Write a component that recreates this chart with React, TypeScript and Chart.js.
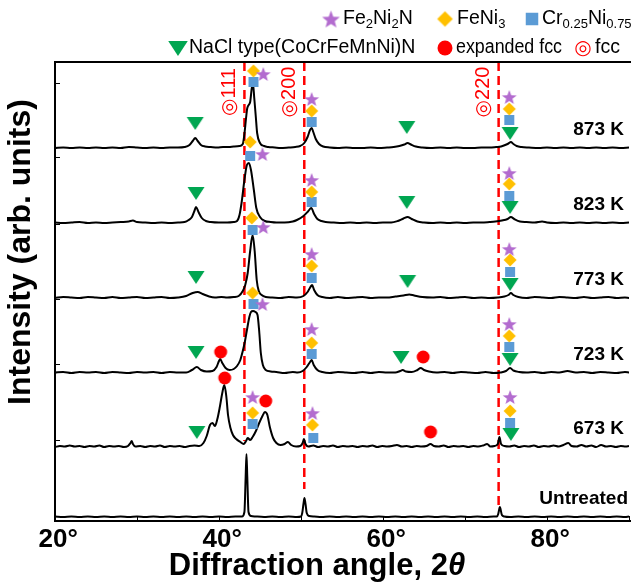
import React, { useEffect, useRef } from 'react';
import { Chart, registerables } from 'chart.js';

Chart.register(...registerables);

type P = [number, number];

// ---------- axis / ticks ----------
const xTickValues = [20, 30, 40, 50, 60, 70, 80, 90];
const xLabelValues = [20, 40, 60, 80];
const yTickValues = [81, 157, 222, 297, 364, 438];

// ---------- patterns (2theta, relative intensity) ----------
const patternLabels = ['Untreated', '673 K', '723 K', '773 K', '823 K', '873 K'];
const patternOffsets = [4, 74, 148, 223, 298, 373];

const untreated: P[] = [
  [20, 0.5], [21, 0], [22, 0.5], [23, 0], [24, 0.5], [25, 0], [26, 0.5], [27, 0], [28, 0.5], [29, 0], [30, 0.5],
  [31, 0], [32, 0.5], [33, 0], [34, 0.5], [35, 0], [36, 0.5], [37, 0], [38, 0.5], [39, 0], [40, 0.5], [41, 0],
  [42, 0.5], [42.8, 0.5], [43.1, 5], [43.25, 40], [43.35, 63], [43.45, 40], [43.6, 5], [43.9, 1], [44.5, 0.5],
  [45.5, 0], [46.5, 0.5], [47.5, 0], [48.5, 0.5], [49.5, 0], [50.0, 0.5], [50.15, 4], [50.3, 13], [50.42, 19],
  [50.55, 13], [50.7, 4], [51.0, 1], [51.6, 0.5], [52.5, 0], [53.5, 0.5], [54.5, 0], [55.5, 0.5], [56.5, 0],
  [57.5, 0.5], [58.5, 0], [59.5, 0.5], [60.5, 0], [61.5, 0.5], [62.5, 0], [63.5, 0.5], [64.5, 0], [65.5, 0.5],
  [66.5, 0], [67.5, 0.5], [68.5, 0], [69.5, 0.5], [70.5, 0], [71.5, 0.5], [72.5, 0], [73.5, 0.5], [73.9, 0.5],
  [74.05, 3], [74.18, 8], [74.25, 10], [74.33, 8], [74.5, 2], [74.8, 0.5], [75.5, 0], [76.5, 0.5], [77.5, 0],
  [78.5, 0.5], [79.5, 0], [80.5, 0.5], [81.5, 0], [82.5, 0.5], [83.5, 0], [84.5, 0.5], [85.5, 0], [86.5, 0.5],
  [87.5, 0], [88.5, 0.5], [89.5, 0], [90, 0.5],
];

const k673: P[] = [
  [20, 0], [20.6, 1], [21.2, 0.5], [21.8, 1.5], [22.4, 0.5], [23, 1], [23.6, 0], [24.2, 1], [24.8, 0.5],
  [25.4, 1.5], [26, 0], [26.6, 1], [27.2, 0.5], [27.8, 1], [28.4, 0], [28.9, 1], [29.2, 4], [29.35, 6],
  [29.5, 3], [29.8, 0.5], [30.4, 1], [31, 0], [31.6, 1], [32.2, 0.5], [32.8, 1.5], [33.4, 0], [34, 1],
  [34.6, 0.5], [35.2, 1], [35.8, 0], [36.4, 1], [37, 1.5], [37.6, 1], [38.1, 4], [38.5, 11], [38.9, 22],
  [39.2, 24], [39.5, 21], [39.8, 28], [40.1, 40], [40.4, 54], [40.65, 62], [40.9, 50], [41.1, 32], [41.4, 19],
  [41.7, 12], [42.1, 8], [42.6, 5], [43.0, 3], [43.3, 6], [43.5, 9], [43.8, 7], [44.1, 10], [44.5, 16],
  [44.9, 24], [45.3, 31], [45.6, 35], [45.9, 32], [46.2, 20], [46.6, 9], [47.0, 4], [47.5, 2], [48.0, 3],
  [48.4, 5], [48.8, 2], [49.4, 0.5], [49.9, 1], [50.2, 4], [50.35, 8], [50.55, 3], [50.9, 0.5], [51.5, 1.5],
  [52.1, 0], [52.7, 1], [53.3, 0.5], [53.9, 1.5], [54.5, 0], [55.1, 1], [55.7, 0.5], [56.3, 1], [56.9, 0],
  [57.5, 1], [58.1, 0.5], [58.7, 1.5], [59.3, 0], [59.9, 1], [60.5, 0.5], [61.1, 1], [61.7, 2], [62.3, 0.5],
  [62.9, 1], [63.5, 0], [64.1, 1], [64.7, 0.5], [65.3, 1], [65.8, 3], [66.2, 1], [66.8, 0.5], [67.4, 1.5],
  [68, 0], [68.6, 1], [69.2, 0.5], [69.8, 1], [70.4, 0], [71, 1], [71.6, 0.5], [72.2, 1.5], [72.7, 3],
  [73.1, 0.5], [73.6, 1], [74.0, 3], [74.2, 10], [74.4, 3], [74.8, 1], [75.4, 0.5], [76, 1.5], [76.6, 0],
  [77.2, 1], [77.8, 0.5], [78.4, 1.5], [79, 0], [79.6, 1], [80.2, 0.5], [80.8, 1.5], [81.4, 0.5], [82, 2],
  [82.6, 4], [83, 1], [83.6, 0.5], [84.2, 2], [84.8, 0.5], [85.4, 1.5], [86, 0], [86.6, 2], [87.2, 0.5],
  [87.8, 1], [88.4, 0], [89, 1], [89.6, 0.5], [90, 1],
];

const k723: P[] = [
  [20, 0.5], [21, 1], [22, 0], [23, 1], [24, 0.5], [25, 1], [26, 0], [27, 1], [28, 0.5], [29, 0], [30, 1],
  [31, 0.5], [32, 1], [33, 0], [34, 1], [35, 0.5], [36, 0.5], [36.7, 3], [37.3, 6], [37.8, 3], [38.5, 1.5],
  [39.2, 2], [39.7, 6], [40.0, 12], [40.15, 14], [40.4, 10], [40.8, 5], [41.3, 3], [41.8, 4], [42.2, 7],
  [42.6, 13], [42.9, 22], [43.15, 31], [43.45, 45], [43.7, 56], [43.9, 61], [44.15, 62], [44.45, 61],
  [44.7, 58], [44.9, 42], [45.1, 20], [45.35, 8], [45.7, 3], [46.3, 1.5], [47, 1], [48, 0], [49, 1],
  [49.6, 0.5], [50.2, 2], [50.7, 6], [51.1, 11], [51.3, 13], [51.55, 8], [52, 3], [52.6, 1], [53.5, 0],
  [54.5, 1], [55.5, 0.5], [56.5, 0], [57.5, 1], [58.5, 0], [59.5, 1], [60.5, 0.5], [61.5, 0.5], [62.1, 2],
  [62.4, 3], [62.8, 1.5], [63.5, 1], [64.2, 3], [64.6, 5], [65.0, 3], [65.6, 1.5], [66.5, 0.5], [67.5, 1],
  [68.5, 0], [69.5, 1], [70.5, 0.5], [71.5, 0], [72.5, 1], [73.5, 0], [74.3, 0.5], [75, 2], [75.5, 5],
  [75.9, 2.5], [76.6, 1], [77.5, 0.5], [78.5, 1], [79.5, 0], [80.5, 1], [81.5, 0.5], [82.5, 2], [83.5, 0.5],
  [84.5, 1], [85.5, 0], [86.5, 1], [87.5, 0.5], [88.5, 0], [89.5, 1], [90, 0.5],
];

const k773: P[] = [
  [20, 0], [21, 1], [22, 0.5], [23, 0], [24, 1], [25, 0.5], [26, 0], [27, 1], [28, 0], [29, 0.5], [30, 1],
  [31, 0], [32, 0.5], [33, 1], [34, 0], [35, 0.5], [36, 2], [36.8, 5], [37.4, 6], [38, 4], [38.8, 1.5],
  [39.5, 0.5], [40.3, 1], [41, 0.5], [41.8, 1], [42.4, 2], [42.9, 7], [43.2, 13], [43.5, 25], [43.8, 47],
  [44.1, 63], [44.35, 47], [44.6, 18], [44.85, 7], [45.2, 3], [45.7, 1], [46.5, 0.5], [47.5, 0], [48.5, 1],
  [49.5, 0.5], [50.3, 2], [50.8, 6], [51.15, 11], [51.35, 13], [51.6, 8], [52, 3], [52.6, 1], [53.5, 0],
  [54.5, 1], [55.5, 0], [56.5, 0.5], [57.5, 1], [58.5, 0], [59.5, 0.5], [60.5, 0.5], [61.5, 1.5], [62.5, 2.5],
  [63.2, 3.5], [63.8, 2.5], [64.8, 1], [66, 0.5], [67, 1], [68, 0], [69, 0.5], [70, 1], [71, 0], [72, 0.5],
  [73, 0], [74, 0.5], [74.8, 1.5], [75.3, 3], [75.6, 5], [75.9, 3], [76.5, 1], [77.5, 0], [78.5, 1],
  [79.5, 0.5], [80.5, 0], [81.5, 1], [82.5, 0.5], [83.5, 0], [84.5, 1], [85.5, 0], [86.5, 0.5], [87.5, 1],
  [88.5, 0], [89.5, 0.5], [90, 0],
];

const k823: P[] = [
  [20, 0.5], [21, 0], [22, 0.5], [23, 1], [24, 0], [25, 0.5], [26, 0], [27, 0.5], [28, 1], [29, 1.5],
  [29.5, 2.5], [30, 1], [31, 0.5], [32, 0], [33, 0.5], [34, 0], [35, 0.5], [35.8, 1], [36.3, 3], [36.7, 6],
  [37.0, 12], [37.2, 16], [37.5, 11], [37.9, 5], [38.4, 2], [39, 1], [40, 0.5], [41, 0.5], [41.8, 1],
  [42.2, 2], [42.5, 8], [42.75, 20], [43.1, 43], [43.4, 58], [43.65, 60], [43.9, 53], [44.25, 33],
  [44.55, 15], [45.0, 6], [45.6, 2], [46.3, 1], [47, 0.5], [48, 0.5], [49, 1.5], [49.5, 3], [50.3, 7],
  [50.9, 12], [51.25, 15], [51.6, 9], [52, 4], [52.5, 2], [53, 1], [54, 0.5], [55, 0], [56, 0.5], [57, 0],
  [58, 0.5], [59, 0], [60, 0.5], [61, 0.5], [61.8, 2], [62.5, 4.5], [63, 6], [63.5, 4], [64.2, 1.5],
  [65, 0.5], [66, 0], [67, 0.5], [68, 0], [69, 0.5], [70, 0], [71, 0.5], [72, 0.5], [73, 1], [73.7, 1.5],
  [74.5, 2.5], [75.2, 4], [75.6, 6], [76, 4], [76.7, 1.5], [77.5, 1], [78.5, 0.5], [79.4, 1.5], [80, 0.5],
  [81, 0], [82, 0.5], [83, 0], [84, 0.5], [85, 0], [86, 0.5], [87, 0], [88, 0.5], [89, 0], [90, 0.5],
];

const k873: P[] = [
  [20, 0], [21, 0.5], [22, 0], [23, 0.5], [24, 0], [25, 0.5], [26, 0], [27, 0.5], [28, 0], [29, 1],
  [30, 0.5], [31, 0], [32, 0.5], [33, 0], [34, 0.5], [35, 0.5], [35.8, 1], [36.4, 3], [36.8, 7], [37.1, 10],
  [37.4, 7], [37.8, 3], [38.3, 1.5], [39, 1], [39.8, 0.5], [40.5, 1], [41.2, 1], [41.8, 1.5], [42.5, 2],
  [42.9, 4], [43.1, 14], [43.3, 30], [43.45, 40], [43.8, 46], [44.0, 60], [44.15, 64], [44.3, 50],
  [44.5, 30], [44.65, 15], [45.0, 5], [45.5, 2], [46, 1], [46.8, 0.5], [47.5, 0], [48.5, 0.5], [49.3, 1],
  [49.9, 2], [50.4, 5], [50.8, 11], [51.1, 18], [51.3, 20], [51.5, 16], [51.8, 9], [52.2, 4], [52.7, 1.5],
  [53.5, 0.5], [54.5, 0], [55.5, 0.5], [56.5, 0], [57.5, 0], [58.5, 0.5], [59.5, 0], [60.5, 0.5], [61.3, 1],
  [62, 2], [62.6, 3.5], [63, 5], [63.4, 3.5], [64, 1.5], [64.8, 0.5], [65.8, 0], [67, 0.5], [68, 0],
  [69, 0.5], [70, 0], [71, 0], [72, 0.5], [73, 0.5], [73.8, 1], [74.4, 1.5], [74.9, 3], [75.3, 4.5],
  [75.6, 6], [75.9, 4], [76.3, 2], [76.9, 1], [77.8, 0.5], [79, 0], [80, 0.5], [81, 0], [82, 0.5], [83, 0],
  [84, 0.5], [85, 0], [86, 0.5], [87, 0], [88, 0.5], [89, 0], [90, 0.5],
];

const patterns = [untreated, k673, k723, k773, k823, k873];

// ---------- phase markers (2theta, stacked intensity) ----------
const fe2ni2nPoints: P[] = [
  [45.4, 447], [51.3, 422], [75.4, 424],
  [45.3, 367], [51.3, 341], [75.4, 348],
  [45.4, 294], [51.3, 267], [75.4, 272],
  [45.3, 217], [51.3, 192], [75.4, 197],
  [44.1, 124], [51.4, 108], [75.5, 124],
];
const feni3Points: P[] = [
  [44.2, 450], [51.3, 410], [75.4, 412],
  [43.8, 379], [51.3, 329], [75.4, 337],
  [44.0, 303], [51.3, 255], [75.5, 261],
  [44.1, 228], [51.3, 178], [75.4, 185],
  [44.1, 108], [51.4, 96], [75.5, 110],
];
const crniPoints: P[] = [
  [44.2, 439], [51.3, 399], [75.4, 401],
  [43.8, 365], [51.3, 319], [75.4, 325],
  [44.1, 291], [51.3, 243], [75.5, 249],
  [44.2, 217], [51.3, 167], [75.4, 174],
  [44.1, 97], [51.5, 83], [75.5, 98],
];
const naclPoints: P[] = [
  [37.1, 398], [62.9, 394], [75.5, 388],
  [37.2, 328], [62.9, 319], [75.5, 314],
  [37.2, 244], [63.0, 240], [75.5, 237],
  [37.2, 169], [62.2, 164], [75.5, 162],
  [37.3, 89], [75.6, 87],
];
const expandedFccPoints: P[] = [
  [40.2, 169], [64.9, 164],
  [40.7, 143], [45.7, 120], [65.8, 89],
];

// fcc reference lines
const fccPeaks = [43.1, 50.4, 74.1];
const fccHkl = ['111', '200', '220'];
const fccLineEnds = [80, 32, 15];

const FONT = "'Liberation Sans', Arial, Helvetica, 'DejaVu Sans', sans-serif";
const COLORS = {
  star: '#b36ccf',
  diamond: '#ffc000',
  square: '#5b9bd5',
  triangle: '#00a651',
  circle: '#ff0000',
  fcc: '#ff0000',
};

function makeMarker(kind: string, color: string, k: number): HTMLCanvasElement {
  const c = document.createElement('canvas');
  const s = Math.ceil(22 * k);
  c.width = s;
  c.height = s;
  const g = c.getContext('2d') as CanvasRenderingContext2D;
  const m = s / 2;
  g.fillStyle = color;
  g.beginPath();
  if (kind === 'star') {
    for (let i = 0; i < 10; i++) {
      const r = (i % 2 === 0 ? 7.8 : 3.3) * k;
      const a = -Math.PI / 2 + (i * Math.PI) / 5;
      const px = m + r * Math.cos(a);
      const py = m + 0.8 * k + r * Math.sin(a);
      if (i === 0) g.moveTo(px, py);
      else g.lineTo(px, py);
    }
  } else if (kind === 'diamond') {
    g.moveTo(m, m - 6.5 * k);
    g.lineTo(m + 6.5 * k, m);
    g.lineTo(m, m + 6.5 * k);
    g.lineTo(m - 6.5 * k, m);
  } else if (kind === 'square') {
    g.rect(m - 5 * k, m - 5 * k, 10 * k, 10 * k);
  } else if (kind === 'triangle') {
    g.moveTo(m - 8.5 * k, m - 6 * k);
    g.lineTo(m + 8.5 * k, m - 6 * k);
    g.lineTo(m, m + 7 * k);
  } else {
    g.arc(m, m, 6.5 * k, 0, Math.PI * 2);
  }
  g.closePath();
  g.fill();
  return c;
}

type Seg = [string, boolean];
function drawRich(ctx: CanvasRenderingContext2D, parts: Seg[], x: number, y: number, size: number, maxW?: number) {
  let cx = x;
  ctx.textAlign = 'left';
  ctx.textBaseline = 'middle';
  for (const [t, sub] of parts) {
    const fs = sub ? Math.round(size * 0.66) : size;
    ctx.font = `${fs}px ${FONT}`;
    const w = ctx.measureText(t).width;
    if (maxW && w > maxW) {
      ctx.fillText(t, cx, sub ? y + size * 0.3 : y, maxW);
      cx += maxW;
    } else {
      ctx.fillText(t, cx, sub ? y + size * 0.3 : y);
      cx += w;
    }
  }
}

function drawIcon(ctx: CanvasRenderingContext2D, img: HTMLCanvasElement, cx: number, cy: number) {
  ctx.drawImage(img, cx - img.width / 2, cy - img.height / 2);
}

export default function App() {
  const ref = useRef<HTMLCanvasElement | null>(null);

  useEffect(() => {
    const canvas = ref.current;
    if (!canvas) return;
    const mk = {
      star: makeMarker('star', COLORS.star, 1),
      diamond: makeMarker('diamond', COLORS.diamond, 1),
      square: makeMarker('square', COLORS.square, 1),
      triangle: makeMarker('triangle', COLORS.triangle, 1),
      circle: makeMarker('circle', COLORS.circle, 1),
    };
    const lg = {
      star: makeMarker('star', COLORS.star, 1.2),
      diamond: makeMarker('diamond', COLORS.diamond, 1.2),
      square: makeMarker('square', COLORS.square, 1.25),
      triangle: makeMarker('triangle', COLORS.triangle, 1.15),
      circle: makeMarker('circle', COLORS.circle, 1.15),
    };

    const markerSet = (label: string, pts: P[], style: HTMLCanvasElement) => ({
      type: 'line' as const,
      label,
      data: pts.map(([a, b]) => ({ x: a, y: b })),
      showLine: false,
      pointStyle: style,
      pointRadius: 6,
      pointHoverRadius: 6,
      order: 0,
    });

    const lineSets = patterns.map((p, i) => ({
      type: 'line' as const,
      label: patternLabels[i],
      data: p.map(([a, b]) => ({ x: a, y: b + patternOffsets[i] })),
      borderColor: '#000000',
      borderWidth: 2,
      pointRadius: 0,
      fill: false,
      cubicInterpolationMode: 'monotone' as const,
      order: 1,
    }));

    const decor = {
      id: 'decor',
      beforeDatasetsDraw(chart: any) {
        const { ctx, chartArea: a, scales } = chart;
        const x = scales.x;
        const y = scales.y;
        ctx.save();
        ctx.strokeStyle = COLORS.fcc;
        ctx.lineWidth = 2.5;
        ctx.setLineDash([9, 5]);
        fccPeaks.forEach((v, i) => {
          const px = x.getPixelForValue(v);
          ctx.beginPath();
          ctx.moveTo(px, a.top);
          ctx.lineTo(px, y.getPixelForValue(fccLineEnds[i]));
          ctx.stroke();
        });
        ctx.restore();
      },
      afterDraw(chart: any) {
        const { ctx, chartArea: a, scales } = chart;
        const x = scales.x;
        const y = scales.y;
        ctx.save();
        // frame
        ctx.strokeStyle = '#000';
        ctx.lineWidth = 2;
        ctx.setLineDash([]);
        ctx.beginPath();
        ctx.moveTo(a.right + 2, a.top);
        ctx.lineTo(a.left, a.top);
        ctx.lineTo(a.left, a.bottom);
        ctx.lineTo(a.right + 2, a.bottom);
        ctx.stroke();
        // inner ticks
        ctx.lineWidth = 1;
        xTickValues.forEach((v) => {
          const px = Math.round(x.getPixelForValue(v)) + 0.5;
          ctx.beginPath();
          ctx.moveTo(px, a.bottom);
          ctx.lineTo(px, a.bottom - 5);
          ctx.stroke();
        });
        yTickValues.forEach((v) => {
          const py = Math.round(y.getPixelForValue(v)) + 0.5;
          ctx.beginPath();
          ctx.moveTo(a.left, py);
          ctx.lineTo(a.left + 5, py);
          ctx.stroke();
        });

        // fcc hkl labels (rotated)
        ctx.fillStyle = COLORS.fcc;
        ctx.font = `20px ${FONT}`;
        ctx.textAlign = 'center';
        ctx.textBaseline = 'middle';
        fccPeaks.forEach((v, i) => {
          const px = x.getPixelForValue(v) - 15;
          ctx.save();
          ctx.translate(px, a.top + 30);
          ctx.rotate(-Math.PI / 2);
          ctx.fillText('◎' + fccHkl[i], 0, 0);
          ctx.restore();
        });

        // pattern labels
        ctx.fillStyle = '#000';
        ctx.font = `bold 19px ${FONT}`;
        ctx.textAlign = 'right';
        patternLabels.forEach((t, i) => {
          ctx.fillText(t, t === 'Untreated' ? 628 : 624, y.getPixelForValue(patternOffsets[i] + 18));
        });

        // legend
        ctx.fillStyle = '#000';
        const L = 19.5;
        drawIcon(ctx, lg.star, 331, 19);
        drawRich(ctx, [['Fe', false], ['2', true], ['Ni', false], ['2', true], ['N', false]], 343, 19, L);
        drawIcon(ctx, lg.diamond, 445, 19);
        drawRich(ctx, [['FeNi', false], ['3', true]], 457, 19, L);
        drawIcon(ctx, lg.square, 532, 19);
        drawRich(ctx, [['Cr', false], ['0.25', true], ['Ni', false], ['0.75', true]], 542, 19, L);
        drawIcon(ctx, lg.triangle, 178, 48);
        drawRich(ctx, [['NaCl type(CoCrFeMnNi)N', false]], 189, 48, L);
        drawIcon(ctx, lg.circle, 445, 48);
        drawRich(ctx, [['expanded fcc', false]], 456, 48, L, 106);
        ctx.fillStyle = COLORS.fcc;
        ctx.font = `20px ${FONT}`;
        ctx.textAlign = 'center';
        ctx.fillText('◎', 583, 48);
        ctx.fillStyle = '#000';
        drawRich(ctx, [['fcc', false]], 595, 48, L);

        // x title
        ctx.fillStyle = '#000';
        ctx.textBaseline = 'middle';
        ctx.textAlign = 'left';
        const t1 = 'Diffraction angle, 2';
        const t2 = 'θ';
        const TS = 31;
        ctx.font = `bold ${TS}px ${FONT}`;
        const w1 = ctx.measureText(t1).width;
        ctx.font = `italic bold ${TS}px ${FONT}`;
        const w2 = ctx.measureText(t2).width;
        const sx = 317 - (w1 + w2) / 2;
        ctx.font = `bold ${TS}px ${FONT}`;
        ctx.fillText(t1, sx, 566);
        ctx.font = `italic bold ${TS}px ${FONT}`;
        ctx.fillText(t2, sx + w1, 566);

        // y title
        ctx.save();
        ctx.translate(21, 252);
        ctx.rotate(-Math.PI / 2);
        ctx.textAlign = 'center';
        ctx.font = `bold 32px ${FONT}`;
        ctx.fillText('Intensity (arb. units)', 0, 0);
        ctx.restore();

        ctx.restore();
      },
    };

    const chart = new Chart(canvas, {
      type: 'line',
      data: {
        datasets: [
          markerSet('Fe2Ni2N', fe2ni2nPoints, mk.star),
          markerSet('FeNi3', feni3Points, mk.diamond),
          markerSet('Cr0.25Ni0.75', crniPoints, mk.square),
          markerSet('NaCl type(CoCrFeMnNi)N', naclPoints, mk.triangle),
          markerSet('expanded fcc', expandedFccPoints, mk.circle),
          ...lineSets,
        ] as any,
      },
      options: {
        animation: false,
        responsive: false,
        events: [],
        layout: { padding: { left: 55, top: 62, right: 0, bottom: 0 } },
        plugins: { legend: { display: false }, tooltip: { enabled: false } },
        scales: {
          x: {
            type: 'linear',
            min: 20,
            max: 90,
            afterFit: (s: any) => {
              s.height = 62;
            },
            afterBuildTicks: (s: any) => {
              s.ticks = xTickValues.map((v) => ({ value: v }));
            },
            grid: { display: false, drawTicks: false },
            border: { display: false },
            ticks: {
              autoSkip: false,
              maxRotation: 0,
              padding: 3,
              color: '#000',
              font: { family: FONT, size: 26, weight: 'bold' },
              callback: (v: any) => (xLabelValues.includes(Number(v)) ? `\u2005${v}°` : ''),
            },
          },
          y: { type: 'linear', min: 0, max: 459, display: false },
        },
      } as any,
      plugins: [decor],
    });

    return () => chart.destroy();
  }, []);

  return (
    <div
      style={{
        position: 'absolute',
        left: 0,
        top: 0,
        width: 634,
        height: 583,
        overflow: 'hidden',
        background: '#fff',
      }}
    >
      <canvas ref={ref} width={636} height={583} style={{ display: 'block' }} />
    </div>
  );
}
